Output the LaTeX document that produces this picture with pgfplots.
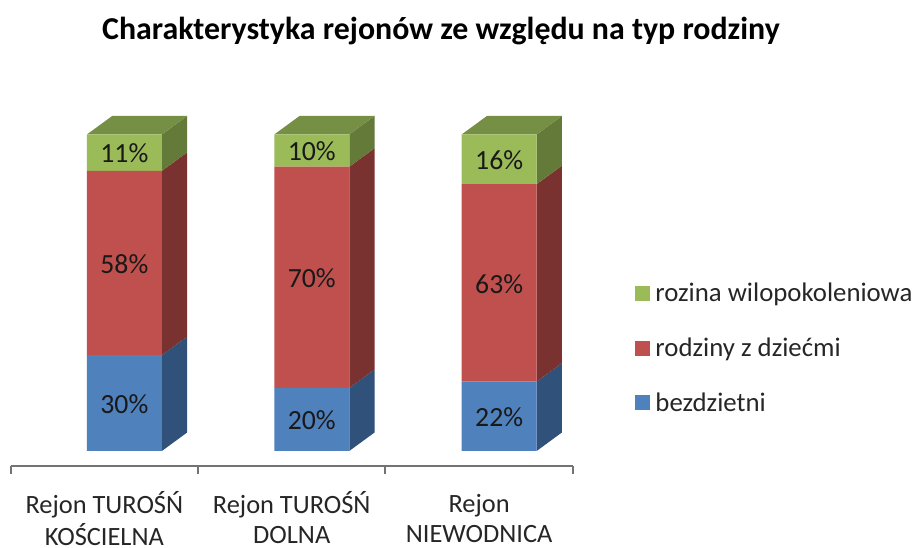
\documentclass[border=0pt]{standalone}
\usepackage{pgfplots}
\pgfplotsset{compat=1.18}
\usepackage{fontspec}
\setmainfont{Carlito}
\definecolor{cblue}{HTML}{4F81BD}
\definecolor{cred}{HTML}{C0504D}
\definecolor{cgreen}{HTML}{9BBB59}
\definecolor{sblue}{HTML}{30517A}
\definecolor{sred}{HTML}{7A3230}
\definecolor{sgreen}{HTML}{647A38}
\definecolor{tgreen}{HTML}{758F45}
\tikzset{dl/.style={font=\fontsize{20.8}{23}\selectfont, text=black!90, yshift=-0.75pt}}
\pgfplotsset{common/.style={
  scale only axis, width=421.6pt, height=262.3pt,
  at={(8pt,61pt)}, anchor=south west,
  xmin=0, xmax=3, ymin=-4.64, ymax=105.85, clip=false}}
\begin{document}
\begin{tikzpicture}
\path[use as bounding box] (0,0) rectangle (685.5pt,410.25pt);
\begin{axis}[common, hide axis]
% side faces: (x1,low) (x1+d,low+dy) (x1+d,high+dy) (x1,high)
\addplot[fill=sblue,draw=none] coordinates {(0.807,0) (0.942,5.85) (0.942,36.15) (0.807,30.3)};
\addplot[fill=sred,draw=none] coordinates {(0.807,30.3) (0.942,36.15) (0.942,94.35) (0.807,88.5)};
\addplot[fill=sgreen,draw=none] coordinates {(0.807,88.5) (0.942,94.35) (0.942,105.85) (0.807,100)};
\addplot[fill=tgreen,draw=none] coordinates {(0.407,100) (0.542,105.85) (0.942,105.85) (0.807,100)};
\addplot[fill=sblue,draw=none] coordinates {(1.807,0) (1.942,5.85) (1.942,25.75) (1.807,19.9)};
\addplot[fill=sred,draw=none] coordinates {(1.807,19.9) (1.942,25.75) (1.942,95.65) (1.807,89.8)};
\addplot[fill=sgreen,draw=none] coordinates {(1.807,89.8) (1.942,95.65) (1.942,105.85) (1.807,100)};
\addplot[fill=tgreen,draw=none] coordinates {(1.407,100) (1.542,105.85) (1.942,105.85) (1.807,100)};
\addplot[fill=sblue,draw=none] coordinates {(2.807,0) (2.942,5.85) (2.942,27.75) (2.807,21.9)};
\addplot[fill=sred,draw=none] coordinates {(2.807,21.9) (2.942,27.75) (2.942,90.15) (2.807,84.3)};
\addplot[fill=sgreen,draw=none] coordinates {(2.807,84.3) (2.942,90.15) (2.942,105.85) (2.807,100)};
\addplot[fill=tgreen,draw=none] coordinates {(2.407,100) (2.542,105.85) (2.942,105.85) (2.807,100)};
\end{axis}
\begin{axis}[common,
  ybar stacked, bar width=0.4,
  axis y line=none, axis x line*=bottom,
  axis line style={color=gray!90!black, line width=1.4pt},
  xtick={0.5,1.5,2.5},
  xticklabels={{\strut Rejon TUROŚŃ\\KOŚCIELNA},{\strut Rejon TUROŚŃ\\DOLNA},{\strut Rejon\\NIEWODNICA}},
  major tick length=0pt,
  minor xtick={0,1,2,3},
  minor tick length=6pt,
  tick align=outside,
  minor tick style={color=gray!90!black, line width=1.4pt},
  xticklabel style={align=center, font=\fontsize{19.8}{22.5}\selectfont, color=black!85, inner ysep=0pt, yshift=-19pt},
  legend image code/.code={\fill[#1] (0pt,-5.6pt) rectangle (11.2pt,5.6pt);},
  reverse legend,
  legend cell align=left,
  legend style={draw=none, fill=none, inner sep=0pt, at={(1.111,0.531)}, anchor=north west,
    row sep=21.7pt, font=\fontsize{20.1}{23}\selectfont, text=black!85,
    nodes={inner xsep=3.8pt}},
]
\addplot[fill=cblue,draw=none] coordinates {(0.607,30.3) (1.607,19.9) (2.607,21.9)};
\addplot[fill=cred,draw=none] coordinates {(0.607,58.2) (1.607,69.9) (2.607,62.4)};
\addplot[fill=cgreen,draw=none] coordinates {(0.607,11.5) (1.607,10.2) (2.607,15.7)};
\legend{bezdzietni,rodziny z dziećmi,rozina wilopokoleniowa}
\end{axis}
\begin{axis}[common, hide axis]
\node[dl] at (axis cs:0.607,15.15) {30\%};
\node[dl] at (axis cs:0.607,59.4) {58\%};
\node[dl] at (axis cs:0.607,94.25) {11\%};
\node[dl] at (axis cs:1.607,9.95) {20\%};
\node[dl] at (axis cs:1.607,54.85) {70\%};
\node[dl] at (axis cs:1.607,94.9) {10\%};
\node[dl] at (axis cs:2.607,10.95) {22\%};
\node[dl] at (axis cs:2.607,53.1) {63\%};
\node[dl] at (axis cs:2.607,92.15) {16\%};
\end{axis}
\node[font=\fontsize{23.9}{26}\selectfont\bfseries, anchor=center] at (330.75pt,387pt) {Charakterystyka rejonów ze względu na typ rodziny};
\end{tikzpicture}
\end{document}
